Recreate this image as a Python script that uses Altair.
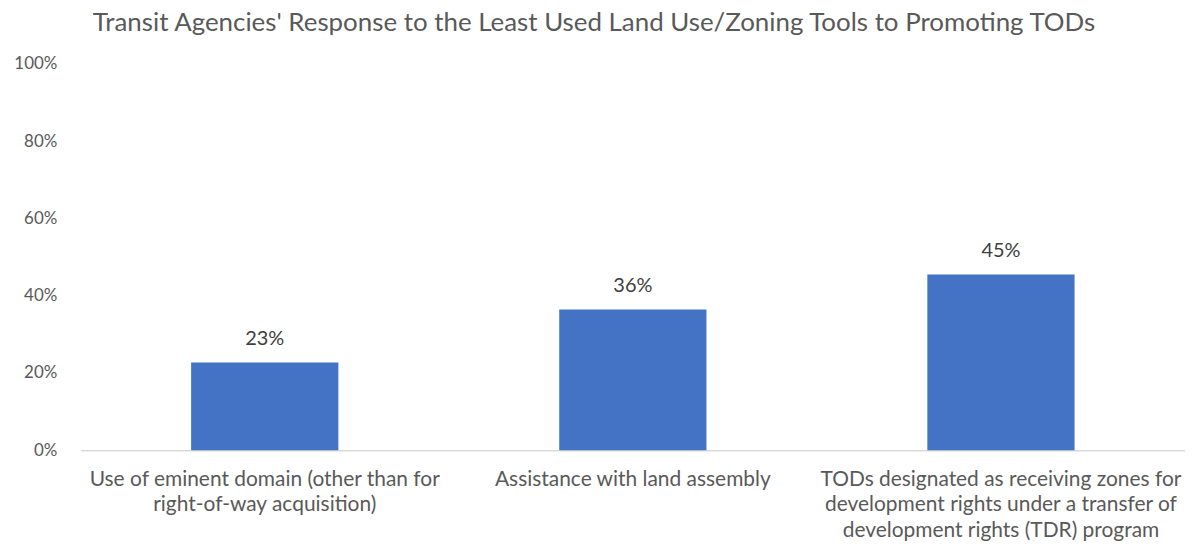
import altair as alt
import pandas as pd

categories = [
    "Use of eminent domain (other than for\nright-of-way acquisition)",
    "Assistance with land assembly",
    "TODs designated as receiving zones for\ndevelopment rights under a transfer of\ndevelopment rights (TDR) program",
]
values = [0.227, 0.364, 0.455]
labels = ["23%", "36%", "45%"]

df = pd.DataFrame({"category": categories, "value": values, "label": labels})

FONT = "Lato"
GREY = "#595959"

x = alt.X(
    "category:N",
    sort=categories,
    scale=alt.Scale(paddingInner=0.6, paddingOuter=0.3),
    axis=alt.Axis(
        title=None,
        labelAngle=0,
        labelExpr="split(datum.label, '\\n')",
        labelFont=FONT,
        labelFontSize=21,
        labelColor=GREY,
        labelPadding=18,
        labelLineHeight=26,
        labelLimit=450,
        ticks=False,
        domainColor="#d9d9d9",
        domainWidth=1.5,
    ),
)

y = alt.Y(
    "value:Q",
    scale=alt.Scale(domain=[0, 1]),
    axis=alt.Axis(
        title=None,
        format=".0%",
        values=[0, 0.2, 0.4, 0.6, 0.8, 1.0],
        grid=False,
        domain=False,
        ticks=False,
        labelFont=FONT,
        labelFontSize=17,
        labelColor=GREY,
        labelPadding=24,
    ),
)

bars = alt.Chart(df).mark_bar(color="#4472C4").encode(x=x, y=y)
text = alt.Chart(df).mark_text(
    baseline="bottom", dy=-14, font=FONT, fontSize=20, color="#404040"
).encode(x=alt.X("category:N", sort=categories), y="value:Q", text="label:N")

chart = (
    alt.layer(bars, text)
    .properties(
        width=1109,
        height=388,
        title=alt.TitleParams(
            "Transit Agencies' Response to the Least Used Land Use/Zoning Tools to Promoting TODs",
            font=FONT,
            fontSize=26,
            fontWeight="normal",
            color=GREY,
            anchor="middle",
            frame="group",
            dx=-39,
            offset=19,
        ),
        padding={"left": 73, "right": 0, "top": 55, "bottom": 92},
        autosize=alt.AutoSizeParams(type="none"),
    )
    .configure_view(stroke=None)
)

chart.save("out.html", embed_options={"renderer": "svg", "actions": False})
